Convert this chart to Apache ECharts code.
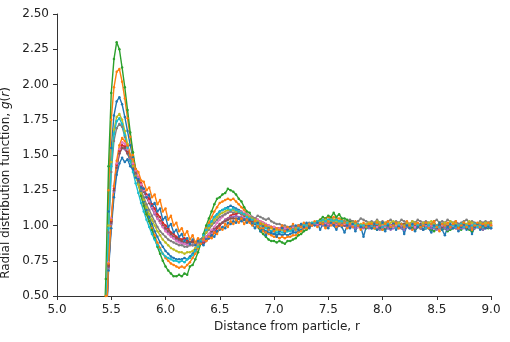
<!DOCTYPE html>
<html>
<head>
<meta charset="utf-8">
<script src="https://cdn.jsdelivr.net/npm/echarts@6/dist/echarts.min.js"></script>
<style>
  html, body { margin: 0; padding: 0; background: #fff; }
  #chart { width: 510px; height: 342px; }
</style>
</head>
<body>
<div id="chart"></div>
<script>
// distance bins, r
const r = [
  5.4, 5.425, 5.45, 5.475, 5.5, 5.525, 5.55, 5.575, 5.6, 5.625,
  5.65, 5.675, 5.7, 5.725, 5.75, 5.775, 5.8, 5.825, 5.85, 5.875,
  5.9, 5.925, 5.95, 5.975, 6.0, 6.025, 6.05, 6.075, 6.1, 6.125,
  6.15, 6.175, 6.2, 6.225, 6.25, 6.275, 6.3, 6.325, 6.35, 6.375,
  6.4, 6.425, 6.45, 6.475, 6.5, 6.525, 6.55, 6.575, 6.6, 6.625,
  6.65, 6.675, 6.7, 6.725, 6.75, 6.775, 6.8, 6.825, 6.85, 6.875,
  6.9, 6.925, 6.95, 6.975, 7.0, 7.025, 7.05, 7.075, 7.1, 7.125,
  7.15, 7.175, 7.2, 7.225, 7.25, 7.275, 7.3, 7.325, 7.35, 7.375,
  7.4, 7.425, 7.45, 7.475, 7.5, 7.525, 7.55, 7.575, 7.6, 7.625,
  7.65, 7.675, 7.7, 7.725, 7.75, 7.775, 7.8, 7.825, 7.85, 7.875,
  7.9, 7.925, 7.95, 7.975, 8.0, 8.025, 8.05, 8.075, 8.1, 8.125,
  8.15, 8.175, 8.2, 8.225, 8.25, 8.275, 8.3, 8.325, 8.35, 8.375,
  8.4, 8.425, 8.45, 8.475, 8.5, 8.525, 8.55, 8.575, 8.6, 8.625,
  8.65, 8.675, 8.7, 8.725, 8.75, 8.775, 8.8, 8.825, 8.85, 8.875,
  8.9, 8.925, 8.95, 8.975, 9.0
];

// g(r) curves, one per run
const gBlue1 = [
  0.00, 0.04, 0.42, 1.10, 1.55, 1.78, 1.88, 1.91, 1.86, 1.77,
  1.67, 1.57, 1.48, 1.39, 1.31, 1.24, 1.17, 1.11, 1.06, 1.01,
  0.96, 0.92, 0.88, 0.85, 0.82, 0.80, 0.78, 0.77, 0.76, 0.76,
  0.76, 0.77, 0.76, 0.78, 0.80, 0.83, 0.86, 0.89, 0.93, 0.97,
  1.00, 1.03, 1.06, 1.08, 1.10, 1.11, 1.12, 1.13, 1.14, 1.13,
  1.12, 1.11, 1.10, 1.08, 1.06, 1.05, 1.03, 1.01, 1.00, 0.98,
  0.97, 0.96, 0.95, 0.94, 0.94, 0.93, 0.94, 0.93, 0.94, 0.93,
  0.94, 0.95, 0.95, 0.96, 0.97, 0.98, 0.99, 1.00, 1.01, 1.02,
  1.02, 1.03, 1.03, 1.04, 1.04, 1.05, 1.04, 1.04, 1.03, 1.03,
  1.02, 1.02, 1.01, 1.01, 1.00, 1.00, 0.99, 1.00, 0.99, 1.00,
  1.00, 0.99, 1.00, 1.01, 0.99, 1.00, 0.98, 1.00, 1.01, 0.99,
  1.00, 0.99, 1.01, 1.00, 0.99, 0.98, 1.00, 0.99, 1.00, 1.01,
  0.99, 1.00, 0.98, 0.99, 1.00, 1.01, 0.99, 1.00, 0.98, 0.99,
  1.00, 0.99, 1.01, 1.00, 0.99, 1.00, 0.98, 1.00, 0.99, 1.00,
  0.99, 1.00, 0.99, 1.00, 0.99
];
const gOrange1 = [
  0.00, 0.06, 0.50, 1.25, 1.75, 1.98, 2.09, 2.11, 2.02, 1.90,
  1.76, 1.63, 1.50, 1.39, 1.29, 1.21, 1.14, 1.08, 1.03, 0.98,
  0.93, 0.88, 0.84, 0.80, 0.77, 0.75, 0.73, 0.72, 0.71, 0.70,
  0.71, 0.70, 0.72, 0.74, 0.77, 0.80, 0.84, 0.88, 0.93, 0.98,
  1.02, 1.06, 1.10, 1.13, 1.16, 1.17, 1.18, 1.19, 1.18, 1.19,
  1.17, 1.15, 1.13, 1.11, 1.08, 1.06, 1.04, 1.02, 1.00, 0.98,
  0.96, 0.95, 0.94, 0.93, 0.92, 0.92, 0.91, 0.92, 0.91, 0.92,
  0.92, 0.93, 0.93, 0.95, 0.96, 0.98, 0.99, 1.00, 1.01, 1.02,
  1.03, 1.04, 1.04, 1.05, 1.06, 1.05, 1.06, 1.05, 1.05, 1.04,
  1.03, 1.03, 1.02, 1.01, 1.01, 1.00, 1.00, 0.99, 1.00, 0.99,
  0.99, 1.00, 0.99, 0.98, 0.99, 1.00, 1.01, 1.00, 0.99, 1.00,
  1.01, 1.00, 0.99, 1.00, 1.01, 1.00, 0.99, 1.00, 0.98, 1.00,
  1.01, 0.99, 1.00, 1.02, 1.00, 0.99, 1.00, 1.01, 0.99, 1.00,
  1.00, 0.98, 1.00, 1.01, 0.99, 1.00, 1.02, 0.99, 1.00, 1.01,
  1.00, 0.99, 1.01, 1.00, 1.01
];
const gGreen = [
  0.00, 0.10, 0.62, 1.42, 1.94, 2.18, 2.30, 2.25, 2.12, 1.98,
  1.82, 1.66, 1.52, 1.40, 1.30, 1.21, 1.14, 1.08, 1.03, 0.97,
  0.91, 0.85, 0.80, 0.75, 0.71, 0.68, 0.66, 0.64, 0.64, 0.65,
  0.64, 0.66, 0.65, 0.71, 0.72, 0.76, 0.81, 0.87, 0.94, 1.00,
  1.05, 1.10, 1.15, 1.19, 1.20, 1.22, 1.23, 1.26, 1.25, 1.24,
  1.22, 1.19, 1.17, 1.13, 1.10, 1.09, 1.05, 1.02, 0.99, 0.96,
  0.94, 0.92, 0.90, 0.89, 0.89, 0.88, 0.89, 0.88, 0.87, 0.89,
  0.89, 0.90, 0.91, 0.93, 0.94, 0.96, 0.97, 0.99, 1.00, 1.02,
  1.03, 1.04, 1.06, 1.05, 1.07, 1.06, 1.09, 1.06, 1.08, 1.05,
  1.05, 1.04, 1.03, 1.03, 1.01, 1.00, 1.00, 0.99, 0.98, 0.99,
  0.98, 0.98, 0.97, 0.98, 0.97, 0.98, 0.99, 0.98, 0.99, 1.00,
  0.99, 0.98, 0.99, 1.00, 0.99, 0.98, 0.97, 0.99, 0.98, 0.97,
  0.98, 0.99, 0.97, 0.96, 0.98, 0.99, 0.97, 0.98, 0.96, 0.97,
  0.98, 0.99, 0.98, 0.97, 0.99, 0.98, 0.97, 0.96, 0.98, 0.99,
  0.98, 0.97, 0.99, 0.98, 0.99
];
const gRed = [
  0.00, 0.02, 0.27, 0.72, 1.03, 1.26, 1.43, 1.53, 1.57, 1.56,
  1.52, 1.48, 1.43, 1.39, 1.34, 1.30, 1.26, 1.22, 1.19, 1.15,
  1.12, 1.08, 1.06, 1.02, 1.00, 0.98, 0.95, 0.94, 0.92, 0.91,
  0.90, 0.91, 0.89, 0.88, 0.89, 0.87, 0.88, 0.87, 0.88, 0.89,
  0.91, 0.93, 0.95, 0.98, 1.00, 1.02, 1.04, 1.05, 1.07, 1.08,
  1.08, 1.09, 1.08, 1.07, 1.08, 1.06, 1.05, 1.05, 1.04, 1.03,
  1.02, 1.01, 1.00, 0.99, 0.99, 0.98, 0.98, 0.99, 0.98, 0.97,
  0.98, 0.99, 0.98, 0.99, 1.00, 0.99, 1.00, 1.01, 1.00, 1.01,
  1.00, 1.01, 1.02, 1.01, 1.00, 1.01, 1.02, 1.01, 1.00, 1.01,
  1.00, 1.01, 1.00, 0.99, 1.00, 1.01, 1.00, 0.99, 1.00, 1.00,
  1.01, 1.00, 0.99, 1.01, 1.00, 1.02, 0.99, 1.00, 1.01, 0.99,
  1.00, 1.01, 1.00, 0.99, 1.01, 1.00, 1.02, 1.00, 0.99, 1.00,
  1.01, 0.99, 1.00, 1.01, 1.00, 0.99, 1.01, 1.00, 1.00, 0.99,
  1.01, 1.00, 0.99, 1.00, 1.01, 1.00, 0.99, 1.01, 1.00, 1.00,
  1.01, 0.99, 1.00, 1.01, 1.00
];
const gPurple = [
  0.00, 0.02, 0.25, 0.70, 1.01, 1.24, 1.41, 1.51, 1.55, 1.54,
  1.51, 1.47, 1.42, 1.37, 1.32, 1.28, 1.24, 1.20, 1.16, 1.12,
  1.08, 1.05, 1.02, 0.99, 0.97, 0.95, 0.93, 0.91, 0.90, 0.89,
  0.88, 0.87, 0.87, 0.87, 0.86, 0.87, 0.87, 0.88, 0.89, 0.91,
  0.93, 0.95, 0.97, 0.99, 1.01, 1.02, 1.04, 1.05, 1.06, 1.06,
  1.07, 1.06, 1.06, 1.05, 1.05, 1.04, 1.04, 1.03, 1.02, 1.02,
  1.01, 1.00, 1.00, 0.99, 0.99, 0.98, 0.98, 0.98, 0.97, 0.98,
  0.98, 0.98, 0.99, 0.99, 0.99, 1.00, 0.99, 1.00, 1.00, 1.01,
  1.00, 1.01, 1.00, 1.01, 1.00, 1.01, 1.00, 1.00, 1.01, 1.00,
  1.00, 0.99, 1.00, 0.99, 0.98, 0.99, 0.99, 0.98, 0.99, 0.98,
  0.98, 0.99, 0.98, 0.97, 0.98, 0.99, 0.98, 0.97, 0.98, 0.99,
  0.98, 0.98, 0.97, 0.99, 0.98, 0.97, 0.98, 0.99, 0.98, 0.97,
  0.98, 0.99, 0.98, 0.98, 0.97, 0.98, 0.99, 0.98, 0.97, 0.98,
  0.99, 0.98, 0.97, 0.98, 0.98, 0.99, 0.98, 0.97, 0.98, 0.99,
  0.98, 0.97, 0.98, 0.99, 0.98
];
const gBrown = [
  0.00, 0.02, 0.26, 0.71, 1.02, 1.25, 1.41, 1.51, 1.55, 1.55,
  1.51, 1.46, 1.41, 1.37, 1.32, 1.28, 1.24, 1.20, 1.16, 1.13,
  1.09, 1.06, 1.03, 1.00, 0.98, 0.96, 0.94, 0.92, 0.91, 0.90,
  0.89, 0.88, 0.88, 0.88, 0.88, 0.88, 0.89, 0.90, 0.91, 0.92,
  0.94, 0.96, 0.98, 0.99, 1.01, 1.02, 1.03, 1.04, 1.05, 1.05,
  1.05, 1.05, 1.05, 1.04, 1.04, 1.03, 1.03, 1.02, 1.02, 1.01,
  1.00, 1.00, 0.99, 0.99, 0.98, 0.98, 0.98, 0.98, 0.98, 0.98,
  0.99, 0.99, 0.99, 1.00, 1.00, 1.00, 1.01, 1.00, 1.01, 1.01,
  1.01, 1.01, 1.01, 1.02, 1.01, 1.01, 1.01, 1.01, 1.00, 1.01,
  1.00, 1.00, 1.01, 1.00, 1.00, 0.99, 1.00, 1.00, 0.99, 1.00,
  1.00, 0.99, 1.00, 1.01, 1.00, 0.99, 1.00, 1.00, 1.01, 1.00,
  0.99, 1.00, 1.01, 1.00, 0.99, 1.00, 1.00, 0.99, 1.01, 1.00,
  1.00, 0.99, 1.00, 1.01, 1.00, 1.00, 0.99, 1.00, 1.01, 1.00,
  0.99, 1.00, 1.00, 1.01, 1.00, 0.99, 1.00, 1.01, 1.00, 0.99,
  1.00, 1.00, 0.99, 1.00, 1.01
];
const gPink = [
  0.00, 0.02, 0.28, 0.74, 1.05, 1.28, 1.44, 1.54, 1.59, 1.58,
  1.54, 1.49, 1.44, 1.39, 1.34, 1.29, 1.25, 1.21, 1.17, 1.13,
  1.09, 1.05, 1.02, 0.99, 0.96, 0.94, 0.92, 0.91, 0.89, 0.88,
  0.87, 0.87, 0.86, 0.86, 0.86, 0.86, 0.87, 0.88, 0.90, 0.92,
  0.94, 0.97, 0.99, 1.02, 1.04, 1.06, 1.08, 1.09, 1.10, 1.11,
  1.11, 1.10, 1.10, 1.09, 1.08, 1.07, 1.06, 1.05, 1.04, 1.03,
  1.02, 1.01, 1.00, 0.99, 0.99, 0.98, 0.98, 0.97, 0.98, 0.98,
  0.98, 0.99, 0.99, 0.98, 0.99, 1.00, 1.00, 1.01, 1.00, 1.01,
  1.01, 1.02, 1.01, 1.02, 1.01, 1.01, 1.02, 1.01, 1.01, 1.00,
  1.01, 1.00, 1.01, 1.00, 1.00, 0.99, 1.00, 1.00, 0.99, 1.00,
  1.00, 1.01, 0.99, 1.00, 1.00, 0.99, 1.01, 1.00, 0.99, 1.00,
  1.01, 1.00, 0.99, 1.00, 1.01, 1.00, 0.99, 1.00, 1.00, 1.01,
  1.00, 0.99, 1.00, 1.01, 1.00, 0.99, 1.00, 1.00, 1.01, 1.00,
  0.99, 1.00, 1.01, 1.00, 0.99, 1.00, 1.00, 1.01, 1.00, 0.99,
  1.00, 1.01, 1.00, 0.99, 1.00
];
const gGray = [
  0.00, 0.02, 0.33, 0.95, 1.38, 1.60, 1.69, 1.72, 1.70, 1.63,
  1.56, 1.49, 1.42, 1.36, 1.30, 1.25, 1.20, 1.15, 1.11, 1.07,
  1.03, 0.99, 0.96, 0.94, 0.92, 0.90, 0.89, 0.88, 0.87, 0.86,
  0.86, 0.85, 0.85, 0.86, 0.86, 0.87, 0.88, 0.90, 0.92, 0.95,
  0.97, 1.00, 1.02, 1.04, 1.06, 1.07, 1.08, 1.09, 1.10, 1.09,
  1.10, 1.09, 1.08, 1.08, 1.07, 1.06, 1.06, 1.05, 1.07, 1.06,
  1.05, 1.04, 1.05, 1.03, 1.02, 1.01, 1.01, 1.00, 1.00, 0.99,
  0.99, 1.00, 0.99, 1.00, 1.01, 1.00, 1.01, 1.02, 1.01, 1.02,
  1.02, 1.03, 1.02, 1.03, 1.02, 1.03, 1.02, 1.02, 1.03, 1.02,
  1.03, 1.02, 1.04, 1.03, 1.02, 1.03, 1.05, 1.04, 1.03, 1.02,
  1.03, 1.02, 1.04, 1.02, 1.03, 1.01, 1.03, 1.04, 1.02, 1.03,
  1.02, 1.04, 1.03, 1.02, 1.01, 1.03, 1.02, 1.04, 1.03, 1.02,
  1.03, 1.02, 1.01, 1.03, 1.04, 1.02, 1.03, 1.02, 1.04, 1.03,
  1.02, 1.03, 1.01, 1.02, 1.03, 1.04, 1.02, 1.03, 1.02, 1.01,
  1.03, 1.02, 1.03, 1.02, 1.03
];
const gOlive = [
  0.00, 0.03, 0.38, 1.00, 1.45, 1.68, 1.77, 1.79, 1.75, 1.67,
  1.58, 1.50, 1.42, 1.35, 1.29, 1.23, 1.18, 1.13, 1.08, 1.04,
  1.00, 0.96, 0.93, 0.90, 0.88, 0.86, 0.84, 0.83, 0.82, 0.81,
  0.81, 0.80, 0.81, 0.81, 0.82, 0.84, 0.86, 0.89, 0.92, 0.95,
  0.98, 1.01, 1.04, 1.06, 1.08, 1.09, 1.10, 1.11, 1.11, 1.11,
  1.10, 1.10, 1.09, 1.08, 1.07, 1.06, 1.05, 1.04, 1.03, 1.02,
  1.01, 1.00, 0.99, 0.98, 0.97, 0.97, 0.96, 0.97, 0.96, 0.96,
  0.97, 0.97, 0.98, 0.98, 0.99, 1.00, 1.00, 1.01, 1.02, 1.02,
  1.03, 1.02, 1.03, 1.04, 1.03, 1.03, 1.04, 1.03, 1.02, 1.03,
  1.02, 1.02, 1.01, 1.02, 1.01, 1.00, 1.01, 1.00, 1.01, 1.02,
  1.02, 1.01, 1.03, 1.02, 1.01, 1.02, 1.00, 1.02, 1.03, 1.01,
  1.02, 1.01, 1.00, 1.02, 1.01, 1.03, 1.02, 1.01, 1.00, 1.02,
  1.01, 1.02, 1.03, 1.01, 1.00, 1.02, 1.01, 1.02, 1.01, 1.03,
  1.02, 1.01, 1.00, 1.01, 1.02, 1.01, 1.03, 1.02, 1.01, 1.00,
  1.02, 1.01, 1.02, 1.01, 1.02
];
const gCyan = [
  0.00, 0.03, 0.36, 0.98, 1.42, 1.65, 1.74, 1.76, 1.72, 1.64,
  1.55, 1.46, 1.38, 1.30, 1.23, 1.16, 1.10, 1.04, 0.99, 0.94,
  0.90, 0.86, 0.83, 0.80, 0.78, 0.77, 0.76, 0.75, 0.75, 0.74,
  0.75, 0.74, 0.76, 0.77, 0.79, 0.82, 0.85, 0.89, 0.93, 0.97,
  1.00, 1.03, 1.06, 1.08, 1.10, 1.11, 1.12, 1.12, 1.11, 1.12,
  1.11, 1.10, 1.09, 1.08, 1.06, 1.05, 1.04, 1.02, 1.01, 1.00,
  0.99, 0.98, 0.97, 0.96, 0.96, 0.95, 0.96, 0.95, 0.95, 0.96,
  0.96, 0.97, 0.97, 0.98, 0.99, 1.00, 1.00, 1.01, 1.02, 1.02,
  1.03, 1.03, 1.04, 1.03, 1.04, 1.04, 1.03, 1.04, 1.03, 1.03,
  1.02, 1.02, 1.01, 1.01, 1.00, 1.01, 1.00, 1.00, 0.99, 1.00,
  1.00, 0.99, 1.01, 1.00, 0.99, 1.00, 1.01, 0.99, 1.00, 0.98,
  1.00, 1.01, 0.99, 1.00, 0.99, 1.00, 1.01, 1.00, 0.99, 1.00,
  0.98, 1.00, 1.01, 0.99, 1.00, 0.99, 1.01, 1.00, 0.99, 1.00,
  1.00, 0.99, 1.00, 1.01, 0.99, 1.00, 0.99, 1.00, 1.01, 0.99,
  1.00, 0.99, 1.00, 1.00, 0.99
];
const gBlue2 = [
  0.00, 0.02, 0.24, 0.68, 0.98, 1.20, 1.36, 1.44, 1.48, 1.45,
  1.47, 1.42, 1.40, 1.34, 1.33, 1.27, 1.26, 1.20, 1.22, 1.14,
  1.16, 1.10, 1.12, 1.04, 1.06, 0.99, 1.01, 0.95, 0.97, 0.92,
  0.94, 0.89, 0.91, 0.87, 0.90, 0.86, 0.89, 0.88, 0.86, 0.90,
  0.91, 0.93, 0.92, 0.96, 0.97, 0.99, 0.98, 1.02, 1.01, 1.03,
  1.02, 1.05, 1.03, 1.04, 1.02, 1.04, 1.01, 0.98, 1.02, 0.96,
  0.99, 0.93, 0.98, 0.95, 0.97, 0.92, 0.96, 0.98, 0.95, 0.97,
  0.99, 0.96, 1.00, 0.97, 1.01, 0.99, 1.02, 0.98, 1.01, 1.00,
  1.02, 0.97, 1.01, 1.00, 0.98, 1.02, 1.00, 0.97, 1.01, 0.99,
  0.95, 1.00, 0.98, 1.01, 0.96, 1.00, 0.99, 0.92, 0.99, 1.00,
  0.98, 1.01, 0.97, 0.99, 1.02, 0.96, 1.00, 0.98, 1.01, 0.97,
  0.99, 1.01, 0.94, 1.00, 0.98, 1.01, 0.96, 0.99, 1.00, 0.97,
  1.01, 0.98, 0.95, 1.00, 0.99, 1.02, 0.97, 0.93, 0.99, 1.01,
  0.98, 1.00, 0.96, 0.99, 1.01, 0.97, 1.00, 0.94, 0.99, 1.01,
  0.97, 1.00, 0.98, 0.99, 0.98
];
const gOrange2 = [
  0.00, 0.02, 0.26, 0.73, 1.04, 1.28, 1.46, 1.57, 1.62, 1.60,
  1.57, 1.50, 1.47, 1.40, 1.38, 1.32, 1.31, 1.25, 1.27, 1.20,
  1.22, 1.15, 1.18, 1.10, 1.12, 1.04, 1.07, 1.00, 1.02, 0.96,
  0.98, 0.93, 0.96, 0.90, 0.93, 0.88, 0.91, 0.87, 0.90, 0.89,
  0.92, 0.91, 0.95, 0.94, 0.98, 0.97, 1.01, 0.99, 1.03, 1.01,
  1.04, 1.02, 1.05, 1.01, 1.04, 1.02, 1.00, 1.03, 0.99, 1.01,
  0.98, 1.00, 0.97, 0.99, 0.96, 0.98, 0.97, 1.00, 0.96, 0.99,
  0.98, 1.01, 0.97, 1.00, 0.99, 1.02, 0.98, 1.01, 1.00, 1.03,
  0.99, 1.02, 1.01, 0.98, 1.03, 1.00, 1.02, 0.99, 1.01, 1.00,
  1.02, 0.98, 1.01, 0.99, 1.03, 1.00, 0.97, 1.02, 0.99, 1.01,
  1.01, 0.98, 1.02, 1.00, 0.97, 1.01, 1.03, 0.99, 1.00, 1.02,
  0.98, 1.01, 0.99, 1.03, 1.00, 0.97, 1.01, 1.02, 0.99, 1.00,
  1.02, 0.98, 1.01, 1.03, 0.99, 0.96, 1.01, 1.00, 1.02, 0.99,
  1.01, 1.03, 0.98, 1.00, 1.02, 0.99, 1.01, 0.97, 1.00, 1.02,
  0.99, 1.01, 1.00, 1.02, 1.00
];

const runs = [
  { g: gBlue1, color: '#1f77b4' },
  { g: gOrange1, color: '#ff7f0e' },
  { g: gGreen, color: '#2ca02c' },
  { g: gRed, color: '#d62728' },
  { g: gPurple, color: '#9467bd' },
  { g: gBrown, color: '#8c564b' },
  { g: gPink, color: '#e377c2' },
  { g: gGray, color: '#7f7f7f' },
  { g: gOlive, color: '#bcbd22' },
  { g: gCyan, color: '#17becf' },
  { g: gBlue2, color: '#1f77b4' },
  { g: gOrange2, color: '#ff7f0e' }
];

const font = 'DejaVu Sans';
const fs = 12;
const chart = echarts.init(document.getElementById('chart'), null, { renderer: 'canvas' });

chart.setOption({
  animation: false,
  backgroundColor: '#fff',
  grid: { left: 57, right: 19, top: 14, bottom: 46, containLabel: false, outerBoundsMode: 'none' },
  xAxis: {
    type: 'value',
    min: 5,
    max: 9,
    interval: 0.5,
    name: 'Distance from particle, r',
    nameLocation: 'middle',
    nameGap: 25,
    nameTextStyle: { fontFamily: font, fontSize: fs, color: '#222', padding: [0, 0, 0, 26] },
    axisLine: { onZero: false, lineStyle: { color: '#333', width: 1 } },
    axisTick: { length: 4, lineStyle: { color: '#333' } },
    axisLabel: { formatter: v => v.toFixed(1), fontFamily: font, fontSize: fs, color: '#222', margin: 8 },
    splitLine: { show: false }
  },
  yAxis: {
    type: 'value',
    min: 0.5,
    max: 2.5,
    interval: 0.25,
    name: '{n|Radial distribution function, }{i|g}{n|(}{i|r}{n|)}',
    nameLocation: 'middle',
    nameGap: 40,
    nameTextStyle: {
      fontFamily: font, fontSize: fs, color: '#222',
      padding: [0, 56, 0, 0],
      rich: {
        n: { fontFamily: font, fontSize: fs, color: '#222' },
        i: { fontFamily: font, fontSize: fs, color: '#222', fontStyle: 'italic' }
      }
    },
    axisLine: { show: true, onZero: false, lineStyle: { color: '#333', width: 1 } },
    axisTick: { show: true, length: 4, lineStyle: { color: '#333' } },
    axisLabel: { formatter: v => v.toFixed(2), fontFamily: font, fontSize: fs, color: '#222', margin: 8 },
    splitLine: { show: false }
  },
  series: runs.map(run => ({
    type: 'line',
    data: r.map((x, i) => [x, run.g[i]]),
    clip: true,
    symbol: 'circle',
    symbolSize: 2.5,
    showAllSymbol: true,
    color: run.color,
    lineStyle: { width: 1.4, color: run.color },
    itemStyle: { color: run.color },
    emphasis: { disabled: true }
  }))
});
</script>
</body>
</html>
